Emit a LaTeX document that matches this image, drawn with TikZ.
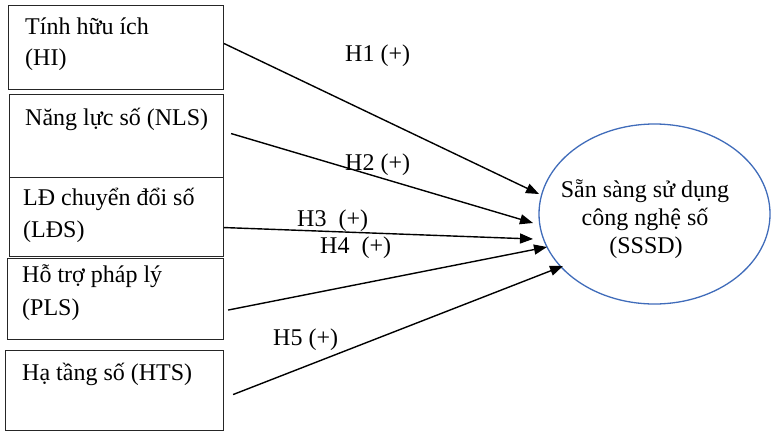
\documentclass[tikz,border=0pt]{standalone}
\usepackage{fontspec}
\setmainfont{Liberation Serif}
\usetikzlibrary{arrows.meta,shapes.geometric,calc}
\definecolor{ellblue}{RGB}{64,108,186}
\begin{document}
\begin{tikzpicture}[x=1pt,y=-1pt,
  box/.style={draw=black!85,line width=1.1pt,rectangle,anchor=north west,inner sep=0pt},
  txt/.style={anchor=base west,inner sep=0pt,font=\fontsize{24pt}{28pt}\selectfont},
  ctxt/.style={anchor=base,inner sep=0pt,font=\fontsize{24pt}{28pt}\selectfont},
  arr/.style={line width=1.4pt,-{Triangle[length=13pt,width=10pt]}}]
\useasboundingbox (0,0) rectangle (775,436);
% boxes
\node[box,minimum width=215pt,minimum height=84pt] (b1) at (8,5) {};
\node[box,minimum width=214pt,minimum height=83pt] (b2) at (9,94) {};
\node[box,minimum width=214pt,minimum height=79pt] (b3) at (9,177) {};
\node[box,minimum width=216pt,minimum height=81pt] (b4) at (7,258) {};
\node[box,minimum width=218pt,minimum height=80pt] (b5) at (5,350) {};
% box texts
\node[txt] (t1a) at (25,35) {Tính hữu ích};
\node[txt] (t1b) at (25,65) {(HI)};
\node[txt] (t2a) at (25,125) {Năng lực số (NLS)};
\node[txt] (t3a) at (23,205) {LĐ chuyển đổi số};
\node[txt] (t3b) at (23,237) {(LĐS)};
\node[txt] (t4a) at (22,282) {Hỗ trợ pháp lý};
\node[txt] (t4b) at (22,315) {(PLS)};
\node[txt] (t5a) at (22,380) {Hạ tầng số (HTS)};
% ellipse
\node[draw=ellblue,line width=1.3pt,ellipse,minimum width=231pt,minimum height=180pt,inner sep=0pt] (sssd) at (654.5,214) {};
\node[ctxt] (s1) at (645,197) {Sẵn sàng sử dụng};
\node[ctxt] (s2) at (645,225) {công nghệ số};
\node[ctxt] (s3) at (646,253) {(SSSD)};
% arrows
\draw[arr] ($(b1.east)+(0,-4)$) -- ($(sssd.center)+(-115.5,-20)$);
\draw[arr] ($(b2.east)+(7,-2.5)$) -- ($(sssd.center)+(-121.5,9)$);
\draw[arr] ($(b3.east)+(0,10.5)$) -- ($(sssd.center)+(-121.5,25)$);
\draw[arr] ($(b4.east)+(4,11)$) -- ($(sssd.center)+(-107.5,33)$);
\draw[arr] ($(b5.east)+(9,4)$) -- ($(sssd.center)+(-91.5,52)$);
% labels
\node[txt] (h1) at (345,61) {H1 (+)};
\node[txt] (h2) at (345,170) {H2 (+)};
\node[txt] (h3) at (297,226) {H3~~(+)};
\node[txt] (h4) at (320,253) {H4~~(+)};
\node[txt] (h5) at (273,345) {H5 (+)};
\end{tikzpicture}
\end{document}
